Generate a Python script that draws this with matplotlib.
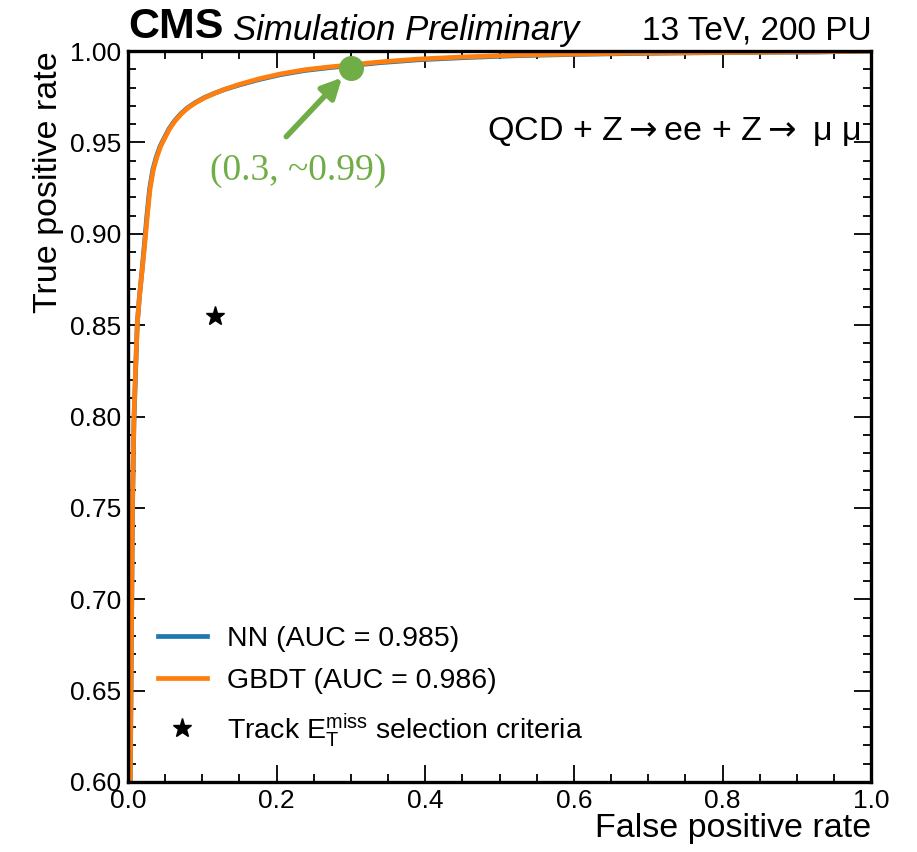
import numpy as np
import matplotlib.pyplot as plt
from matplotlib.ticker import MultipleLocator

plt.rcParams['font.family'] = ['Liberation Sans', 'DejaVu Sans']

# ROC curves (false positive rate, true positive rate)
gbdt_fpr = [0.0, 0.001, 0.003, 0.005, 0.006, 0.008, 0.010, 0.0126, 0.0155, 0.019,
            0.0229, 0.026, 0.0296, 0.034, 0.0386, 0.044, 0.0498, 0.056, 0.0633, 0.072,
            0.0812, 0.092, 0.1036, 0.117, 0.1306, 0.15, 0.175, 0.205, 0.238, 0.27,
            0.30, 0.34, 0.389, 0.45, 0.523, 0.60, 0.68, 0.80, 0.927, 1.0]
gbdt_tpr = [0.0, 0.45, 0.60, 0.70, 0.751, 0.80, 0.824, 0.8515, 0.866, 0.880,
            0.896, 0.910, 0.9245, 0.935, 0.9418, 0.948, 0.9527, 0.9575, 0.9618, 0.9658,
            0.9691, 0.972, 0.9746, 0.977, 0.9792, 0.9818, 0.9847, 0.9875, 0.9898, 0.9913,
            0.9925, 0.9941, 0.9956, 0.9968, 0.9978, 0.9984, 0.9989, 0.9993, 0.9996, 1.0]

nn_fpr = [0.0, 0.001, 0.003, 0.005, 0.006, 0.008, 0.010, 0.0124, 0.0152, 0.0186,
          0.0224, 0.0254, 0.029, 0.0333, 0.0378, 0.0432, 0.049, 0.0552, 0.0625, 0.0712,
          0.0804, 0.0912, 0.1028, 0.1162, 0.13, 0.15, 0.175, 0.205, 0.238, 0.27,
          0.30, 0.34, 0.389, 0.45, 0.523, 0.60, 0.68, 0.80, 0.927, 1.0]
nn_tpr = [0.0, 0.44, 0.595, 0.695, 0.748, 0.797, 0.822, 0.8505, 0.865, 0.879,
          0.896, 0.910, 0.9245, 0.935, 0.9418, 0.948, 0.9527, 0.9575, 0.9618, 0.9658,
          0.9691, 0.972, 0.9746, 0.9769, 0.979, 0.9815, 0.9843, 0.9871, 0.9894, 0.9909,
          0.9921, 0.9937, 0.9952, 0.9964, 0.9975, 0.9982, 0.9987, 0.9992, 0.9995, 1.0]

star_fpr = 0.117
star_tpr = 0.855
wp_fpr = 0.3
wp_tpr = 0.9905

labels = ['NN (AUC = 0.985)', 'GBDT (AUC = 0.986)',
          r'Track $\mathregular{E_T^{miss}}$ selection criteria']

fig = plt.figure(figsize=(9.17, 8.52), dpi=100)
ax = fig.add_axes([0.1396, 0.0822, 0.8104, 0.8578])

ax.plot(nn_fpr, nn_tpr, color='#1f77b4', lw=3.4, label=labels[0],
        solid_joinstyle='round')
ax.plot(gbdt_fpr, gbdt_tpr, color='#ff7f0e', lw=3.4, label=labels[1],
        solid_joinstyle='round')
ax.plot(star_fpr, star_tpr, ls='none', marker='*', color='black', ms=14,
        label=labels[2])

green = '#70ad47'
ax.plot(wp_fpr, wp_tpr, 'o', color=green, ms=17, zorder=5, clip_on=False)
ax.annotate('', xy=(0.288, 0.9855), xytext=(0.213, 0.9532),
            arrowprops=dict(arrowstyle='-|>', color=green, lw=4,
                            mutation_scale=30, shrinkA=0, shrinkB=0))
ax.text(0.229, 0.9345, '(0.3, ~0.99)', color=green, fontsize=27,
        family='Liberation Serif', ha='center', va='center')

ax.text(0.985, 0.956, r'QCD + Z$\rightarrow$ee + Z$\rightarrow$ μ μ',
        fontsize=24.5, ha='right', va='center')

ax.set_xlim(0, 1)
ax.set_ylim(0.6, 1.0)
ax.xaxis.set_major_locator(MultipleLocator(0.2))
ax.xaxis.set_minor_locator(MultipleLocator(0.05))
ax.yaxis.set_major_locator(MultipleLocator(0.05))
ax.yaxis.set_minor_locator(MultipleLocator(0.01))
ax.set_xticklabels(['%.1f' % v for v in ax.get_xticks()])
ax.set_yticklabels(['%.2f' % v for v in ax.get_yticks()])
ax.tick_params(which='both', direction='in', top=True, right=True,
               labelsize=19, width=1.3)
ax.tick_params(which='major', length=12, pad=5)
ax.tick_params(which='minor', length=6)
for s in ax.spines.values():
    s.set_linewidth(2.4)

ax.set_xlabel('False positive rate', fontsize=24.5, loc='right', labelpad=0)
ax.set_ylabel('True positive rate', fontsize=24.5, loc='top', labelpad=4)

ax.text(0.0, 1.006, 'CMS', transform=ax.transAxes, fontsize=31,
        fontweight='bold', ha='left', va='bottom')
ax.text(0.141, 1.006, 'Simulation Preliminary', transform=ax.transAxes,
        fontsize=25, style='italic', ha='left', va='bottom')
ax.text(1.0, 1.006, '13 TeV, 200 PU', transform=ax.transAxes, fontsize=24,
        ha='right', va='bottom')

ax.legend(loc='lower left', bbox_to_anchor=(-0.013, -0.009), frameon=False,
          fontsize=20.5, handlelength=1.7, handletextpad=0.7,
          labelspacing=0.58, borderaxespad=1.0)

fig.savefig('out.png', dpi=100)
